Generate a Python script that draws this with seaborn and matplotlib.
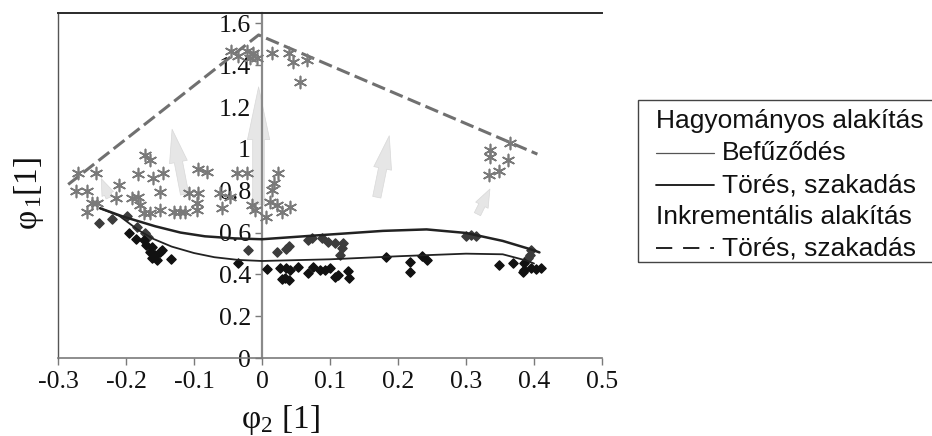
import numpy as np
import pandas as pd
import matplotlib
matplotlib.use("Agg")
import matplotlib.pyplot as plt
import seaborn as sns
from matplotlib.patches import FancyArrowPatch, Rectangle
from matplotlib.lines import Line2D

# ---------------- data ----------------
# Incremental forming measured points (gray asterisks)
inc_x = [-0.270, -0.244, -0.273, -0.257, -0.250, -0.243, -0.257, -0.172, -0.165, -0.183,
         -0.161, -0.145, -0.211, -0.214, -0.183, -0.191, -0.150, -0.179, -0.174, -0.164,
         -0.150, -0.130, -0.120, -0.094, -0.081, -0.037, -0.022, 0.024, 0.017, 0.014,
         -0.108, -0.094, -0.096, -0.113, -0.096, -0.062, -0.059, -0.047, -0.015, -0.010,
         0.006, 0.012, 0.022, 0.029, 0.041,
         -0.045, -0.035, -0.022, -0.013, -0.008, -0.018, 0.014, 0.039, 0.046, 0.066, 0.056,
         0.364, 0.335, 0.335, 0.362, 0.349, 0.334]
inc_y = [0.883, 0.883, 0.800, 0.800, 0.740, 0.740, 0.700, 0.971, 0.947, 0.880,
         0.860, 0.887, 0.828, 0.764, 0.772, 0.764, 0.796, 0.732, 0.692, 0.692,
         0.708, 0.700, 0.700, 0.902, 0.891, 0.883, 0.883, 0.887, 0.835, 0.804,
         0.788, 0.788, 0.740, 0.700, 0.708, 0.788, 0.716, 0.772, 0.732, 0.708,
         0.676, 0.748, 0.732, 0.700, 0.724,
         1.466, 1.442, 1.466, 1.458, 1.434, 1.434, 1.458, 1.458, 1.418, 1.426, 1.322,
         1.030, 0.995, 0.963, 0.947, 0.896, 0.876]

# Conventional forming points near the fracture curve (dark gray)
conv_up_x = [-0.239, -0.221, -0.199, -0.184, -0.172, -0.167, -0.020, 0.022, 0.036, 0.039,
             0.068, 0.073, 0.088, 0.097, 0.107, 0.119, 0.118, 0.115,
             0.300, 0.308, 0.315, 0.396, 0.394, 0.391]
conv_up_y = [0.647, 0.663, 0.679, 0.628, 0.596, 0.580, 0.517, 0.509, 0.522, 0.537,
             0.565, 0.576, 0.576, 0.557, 0.549, 0.549, 0.525, 0.493,
             0.582, 0.589, 0.582, 0.517, 0.493, 0.477]

# Conventional forming points near the necking curve (black)
conv_lo_x = [-0.195, -0.186, -0.174, -0.170, -0.162, -0.164, -0.157, -0.150, -0.162, -0.155,
             -0.147, -0.134, -0.035,
             0.008, 0.026, 0.036, 0.041, 0.053, 0.068, 0.075, 0.085, 0.093, 0.100,
             0.107, 0.112, 0.127, 0.128, 0.029, 0.039, 0.034, 0.183,
             0.235, 0.242, 0.217, 0.217, 0.349, 0.369, 0.386, 0.396, 0.403, 0.411,
             0.386, 0.384]
conv_lo_y = [0.600, 0.567, 0.565, 0.541, 0.533, 0.509, 0.493, 0.509, 0.477, 0.469,
             0.517, 0.472, 0.453,
             0.424, 0.432, 0.432, 0.421, 0.437, 0.405, 0.437, 0.421, 0.421, 0.429,
             0.389, 0.397, 0.416, 0.381, 0.378, 0.373, 0.384, 0.481,
             0.488, 0.469, 0.461, 0.413, 0.445, 0.456, 0.421, 0.429, 0.424, 0.429,
             0.453, 0.413]

# Conventional forming: fracture limit curve
frac_x = [-0.238, -0.204, -0.157, -0.120, -0.084, -0.040, 0.000, 0.070, 0.178, 0.242,
          0.300, 0.354, 0.398, 0.408]
frac_y = [0.716, 0.676, 0.630, 0.600, 0.582, 0.572, 0.568, 0.584, 0.608, 0.615,
          0.598, 0.560, 0.517, 0.505]

# Conventional forming: necking limit curve
neck_x = [-0.238, -0.210, -0.182, -0.160, -0.133, -0.100, -0.070, -0.035, 0.000, 0.100,
          0.203, 0.300, 0.354, 0.389, 0.400]
neck_y = [0.716, 0.680, 0.612, 0.570, 0.533, 0.502, 0.482, 0.469, 0.464, 0.472,
          0.487, 0.499, 0.496, 0.466, 0.452]

# Incremental forming: fracture limit (dashed)
inc_lim_x = [-0.285, -0.005, 0.405]
inc_lim_y = [0.830, 1.545, 0.975]

# Arrows (start -> end)
arr_x0 = [-0.223, -0.113, -0.005, 0.168, 0.315]
arr_y0 = [0.755, 0.770, 0.720, 0.756, 0.676]
arr_x1 = [-0.238, -0.133, -0.005, 0.188, 0.337]
arr_y1 = [0.870, 1.107, 1.310, 1.076, 0.820]

x_ticks = [-0.3, -0.2, -0.1, 0, 0.1, 0.2, 0.3, 0.4, 0.5]
x_tick_labels = ["-0.3", "-0.2", "-0.1", "0", "0.1", "0.2", "0.3", "0.4", "0.5"]
y_ticks = [0, 0.2, 0.4, 0.6, 0.8, 1.0, 1.2, 1.4, 1.6]
y_tick_labels = ["0", "0.2", "0.4", "0.6", "0.8", "1", "1.2", "1.4", "1.6"]

legend_labels = ["Hagyományos alakítás", "Befűződés", "Törés, szakadás",
                 "Inkrementális alakítás", "Törés, szakadás"]

# ---------------- style ----------------
sns.set_style("white")
plt.rcParams["font.family"] = ["Liberation Serif", "DejaVu Serif"]
plt.rcParams["mathtext.fontset"] = "custom"
plt.rcParams["mathtext.rm"] = "Liberation Serif"
plt.rcParams["mathtext.it"] = "Liberation Serif:italic"
plt.rcParams["axes.unicode_minus"] = False

W, H = 932, 436
fig = plt.figure(figsize=(W / 100, H / 100), dpi=100)
ax = fig.add_axes([58 / W, 78 / H, 544 / W, 345 / H])
ax.set_xlim(-0.3, 0.5)
ax.set_ylim(0, 1.65)

# arrows (background)
arr_shape = [(5, 9, 12), (6, 13, 24), (8.5, 16, 38), (6, 13, 24), (5, 10, 13)]
for x0, y0, x1, y1, (tw, hw, hl) in zip(arr_x0, arr_y0, arr_x1, arr_y1, arr_shape):
    p = FancyArrowPatch((x0, y0), (x1, y1),
                        arrowstyle=f"simple,tail_width={tw},head_width={hw},head_length={hl}",
                        mutation_scale=1, fc="#e6e6e6", ec="#d8d8d8", lw=0.5, zorder=1)
    ax.add_patch(p)

# incremental limit (dashed)
sns.lineplot(x=inc_lim_x, y=inc_lim_y, sort=False, estimator=None, ax=ax,
             color="#707070", lw=2.2, linestyle=(0, (4.5, 1.8)), zorder=3)

# asterisk points
sns.scatterplot(x=inc_x, y=inc_y, ax=ax, marker=(6, 2, 0), s=75,
                color="#7a7a7a", edgecolor="#7a7a7a", linewidth=1.2, zorder=4)

# conventional points
sns.scatterplot(x=conv_up_x, y=conv_up_y, ax=ax, marker="D", s=22,
                color="#3c3c3c", edgecolor="#3c3c3c", linewidth=1.0, zorder=5)
sns.scatterplot(x=conv_lo_x, y=conv_lo_y, ax=ax, marker="D", s=22,
                color="#111111", edgecolor="#111111", linewidth=1.0, zorder=5)

# limit curves
sns.lineplot(x=frac_x, y=frac_y, sort=False, estimator=None, ax=ax,
             color="#222222", lw=1.8, zorder=6)
sns.lineplot(x=neck_x, y=neck_y, sort=False, estimator=None, ax=ax,
             color="#222222", lw=1.3, zorder=6)

# axes styling
ax.spines["left"].set_position(("data", 0))
ax.spines["left"].set_color("#8a8a8a")
ax.spines["left"].set_linewidth(1.6)
ax.spines["right"].set_visible(True)
ax.spines["right"].set_position(("data", -0.3))
ax.spines["right"].set_color("#555555")
ax.spines["right"].set_linewidth(1.0)
ax.spines["top"].set_visible(True)
ax.spines["top"].set_color("#2a2a2a")
ax.spines["top"].set_linewidth(1.4)
ax.spines["bottom"].set_color("#7a7a7a")
ax.spines["bottom"].set_linewidth(1.2)
ax.spines["left"].set_zorder(2)

ax.set_xticks(x_ticks)
ax.set_xticklabels(x_tick_labels)
ax.set_yticks(y_ticks)
ax.set_yticklabels(y_tick_labels)
ax.yaxis.set_ticks_position("left")
ax.xaxis.set_ticks_position("bottom")
ax.tick_params(axis="both", which="both", direction="out", length=5, width=1,
               color="#7a7a7a", labelsize=18.5, labelcolor="#111111")
ax.tick_params(axis="y", pad=3, left=True)
ax.tick_params(axis="x", pad=4, bottom=True)

ax.set_xlabel(r"$\mathrm{φ}_2$ [1]", fontsize=24, color="#111111")
ax.xaxis.set_label_coords((280 - 58) / 544, -0.13)
ax.set_ylabel(r"$\mathrm{φ}_{\,1}$[1]", fontsize=24, color="#111111")
ax.yaxis.set_label_coords((46 - 58) / 544, 0.478)

# ---------------- legend box ----------------
fig.add_artist(Rectangle((638 / W, 1 - 262 / H), (950 - 638) / W, (262 - 100) / H,
                         transform=fig.transFigure, fill=False, ec="#444444", lw=1.0))
rows = [121, 153, 185, 217, 248]
lx0, lx1, tx = 656 / W, 714 / W, 722 / W
leg_font = dict(fontsize=19, family=["Liberation Sans", "DejaVu Sans"], color="#111111",
                va="center", ha="left")
fig.text(lx0, 1 - rows[0] / H, legend_labels[0], **leg_font)
fig.add_artist(Line2D([lx0, lx1], [1 - rows[1] / H] * 2, transform=fig.transFigure,
                      color="#555555", lw=0.9))
fig.text(tx, 1 - rows[1] / H, legend_labels[1], **leg_font)
fig.add_artist(Line2D([lx0, lx1], [1 - rows[2] / H] * 2, transform=fig.transFigure,
                      color="#111111", lw=1.3))
fig.text(tx, 1 - rows[2] / H, legend_labels[2], **leg_font)
fig.text(lx0, 1 - rows[3] / H, legend_labels[3], **leg_font)
fig.add_artist(Line2D([lx0, lx1], [1 - rows[4] / H] * 2, transform=fig.transFigure,
                      color="#111111", lw=1.3, linestyle=(0, (9, 6))))
fig.text(tx, 1 - rows[4] / H, legend_labels[4], **leg_font)

fig.savefig("out.png", dpi=100)
